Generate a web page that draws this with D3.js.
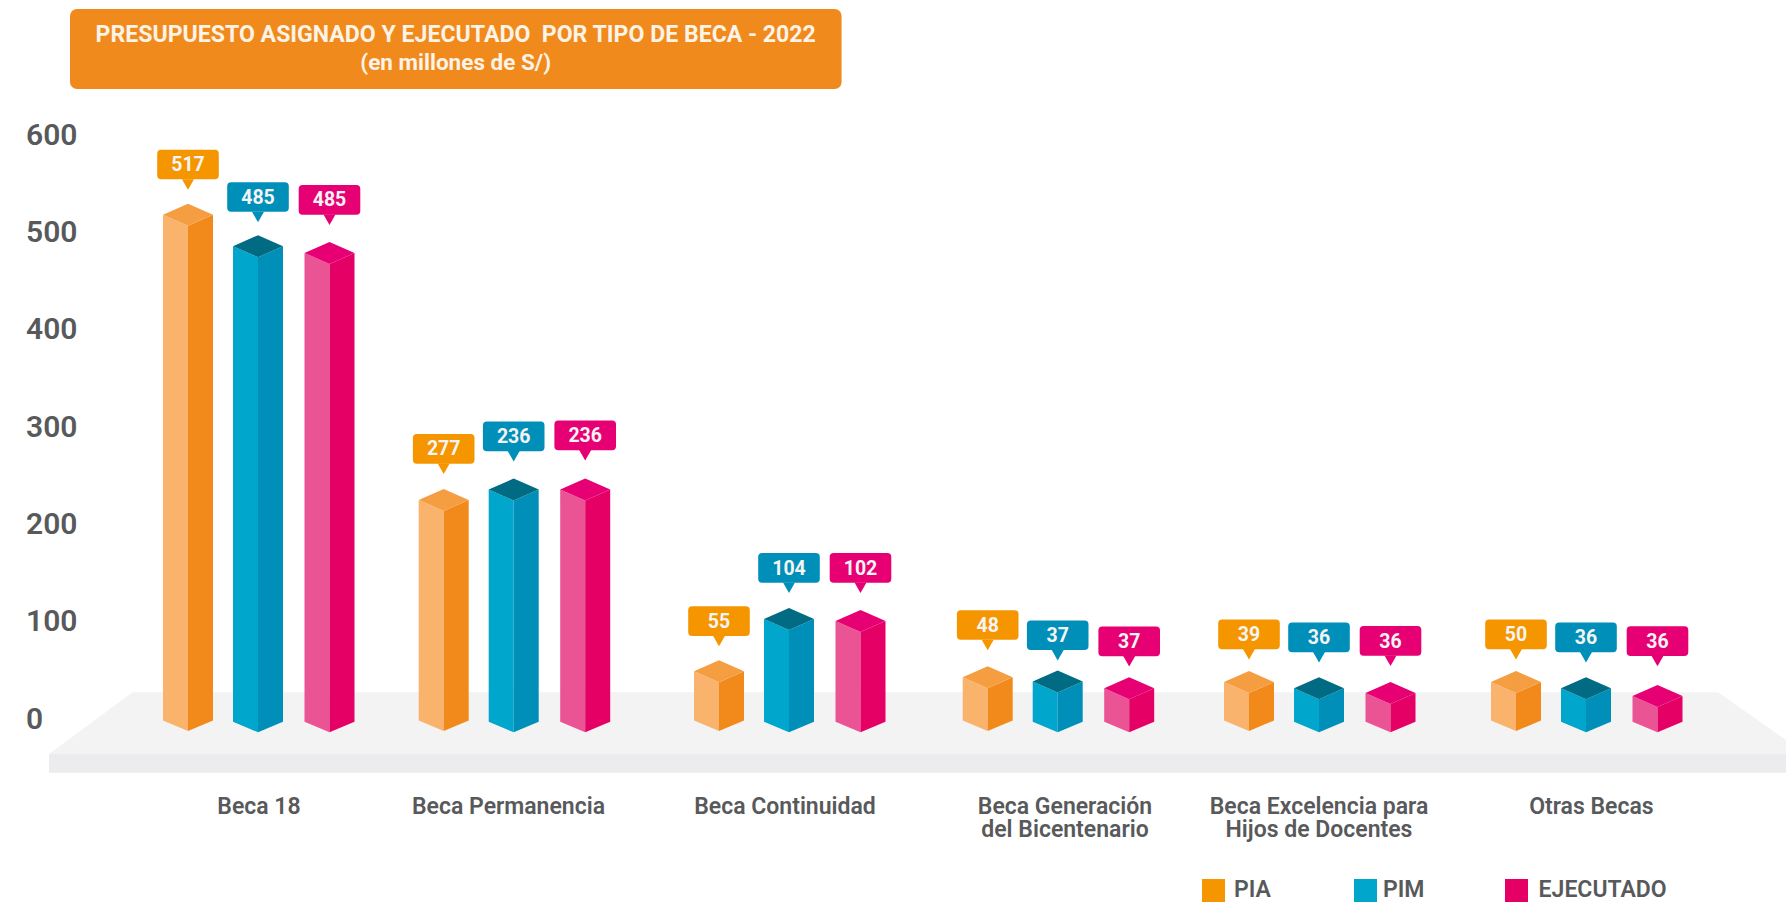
<!DOCTYPE html>
<html>
<head>
<meta charset="utf-8">
<script src="https://cdn.jsdelivr.net/npm/d3@7"></script>
<style>
  html, body { margin: 0; padding: 0; background: #fff; }
  svg { display: block; font-family: Roboto, sans-serif; }
</style>
</head>
<body>
<svg id="chart"></svg>
<script>
// Data: labels printed on the bubbles
var categories = [["Beca 18"], ["Beca Permanencia"], ["Beca Continuidad"],
    ["Beca Generación", "del Bicentenario"], ["Beca Excelencia para", "Hijos de Docentes"], ["Otras Becas"]];
var piaValues = [517, 277, 55, 48, 39, 50];
var pimValues = [485, 236, 104, 37, 36, 36];
var ejecutadoValues = [485, 236, 102, 37, 36, 36];

// Height of the bars read on the axis (the picture does not always follow its labels)
var piaHeights = [519, 226, 50, 44, 39, 39];
var pimHeights = [488, 238, 105, 41, 34, 34];
var ejecutadoHeights = [481, 238, 103, 34, 29, 26];

var yTicks = [0, 100, 200, 300, 400, 500, 600];
var seriesNames = ["PIA", "PIM", "EJECUTADO"];

// Layout
var width = 1786;
var height = 903;
var halfBar = 25;
var capRise = 11;

var svg = d3.select("#chart").attr("width", width).attr("height", height);

var y = d3.scaleLinear().domain([0, 600]).range([718.6, 134.4]);
var groupX = d3.scaleOrdinal().domain(d3.range(6)).range([188, 443.7, 719, 987.7, 1249, 1516]);
var labelX = d3.scaleOrdinal().domain(d3.range(6)).range([259, 508.5, 785, 1065, 1319, 1591.4]);

// one entry per series
var series = [
    { name: seriesNames[0], values: piaValues, heights: piaHeights, offset: 0, base: 731,
      gaps: [14, 15, 14, 16, 11.5, 11.5],
      left: "#f9b36c", right: "#f18a1a", top: "#f59e41", bubble: "#f59500", key: "#f59500", keyX: 1202, textX: 1234 },
    { name: seriesNames[1], values: pimValues, heights: pimHeights, offset: 70, base: 732.3,
      gaps: [13, 17, 15, 10, 14.6, 14.6],
      left: "#00a6cc", right: "#008fb8", top: "#006b82", bubble: "#008fb8", key: "#00a6cc", keyX: 1354, textX: 1383 },
    { name: seriesNames[2], values: ejecutadoValues, heights: ejecutadoHeights, offset: 141.5, base: 732.3,
      gaps: [17, 18, 17, 10.7, 16, 18.7],
      left: "#eb5494", right: "#e50065", top: "#e60073", bubble: "#e60073", key: "#e50065", keyX: 1505, textX: 1538.6 }
];

// Title box
svg.append("rect").attr("x", 70).attr("y", 9).attr("width", 771.6).attr("height", 80)
    .attr("rx", 7).attr("fill", "#f18a1c");
svg.append("g").attr("fill", "#fdf3e6").attr("font-weight", 700).attr("text-anchor", "middle")
    .selectAll("text")
    .data(["PRESUPUESTO ASIGNADO Y EJECUTADO  POR TIPO DE BECA - 2022", "(en millones de S/)"])
    .enter().append("text")
    .attr("xml:space", "preserve")
    .attr("x", 455.7)
    .attr("y", function (d, i) { return i ? 62 : 33.5; })
    .attr("dy", ".36em")
    .attr("font-size", function (d, i) { return i ? 22.5 : 23.1; })
    .text(function (d) { return d; });

// Floor
var floor = svg.append("g");
floor.append("path")
    .attr("d", "M49,754L132.6,692.3L1718,692.3L1806,754Z")
    .attr("fill", "#f3f3f4");
floor.append("rect").attr("x", 49).attr("y", 754).attr("width", width - 49).attr("height", 18.7)
    .attr("fill", "#ececee");

// Y axis
var axis = d3.axisLeft(y).tickValues(yTicks).tickSize(0).tickPadding(0);
var axisG = svg.append("g").attr("transform", "translate(26,0)").call(axis);
axisG.select(".domain").remove();
axisG.selectAll("text")
    .attr("text-anchor", "start")
    .attr("font-family", "Roboto, sans-serif")
    .attr("font-size", 30)
    .attr("font-weight", 600)
    .attr("fill", "#58595b");

// Bars
function barPoints(d) {
    var cx = groupX(d.i) + d.s.offset;
    var front = d.s.base - (y(0) - y(d.h)); // top of the front corner
    return { cx: cx, front: front, base: d.s.base, peak: front - 2 * capRise };
}

series.forEach(function (s) {
    var rows = s.values.map(function (v, i) { return { v: v, h: s.heights[i], i: i, s: s }; });
    var g = svg.append("g").attr("class", "serie");
    var bar = g.selectAll("g.bar").data(rows).enter().append("g").attr("class", "bar");

    bar.append("path").attr("fill", s.left).attr("d", function (d) {
        var p = barPoints(d);
        return "M" + (p.cx - halfBar) + "," + (p.front - capRise) + "L" + p.cx + "," + p.front +
            "L" + p.cx + "," + p.base + "L" + (p.cx - halfBar) + "," + (p.base - capRise + 0.5) + "Z";
    });
    bar.append("path").attr("fill", s.right).attr("d", function (d) {
        var p = barPoints(d);
        return "M" + (p.cx + halfBar) + "," + (p.front - capRise) + "L" + p.cx + "," + p.front +
            "L" + p.cx + "," + p.base + "L" + (p.cx + halfBar) + "," + (p.base - capRise + 0.5) + "Z";
    });
    bar.append("path").attr("fill", s.top).attr("d", function (d) {
        var p = barPoints(d);
        return "M" + p.cx + "," + p.peak + "L" + (p.cx + halfBar) + "," + (p.front - capRise) +
            "L" + p.cx + "," + p.front + "L" + (p.cx - halfBar) + "," + (p.front - capRise) + "Z";
    });

    // Bubble with the label, sitting over the peak of the bar
    var bubble = bar.append("g").attr("transform", function (d) {
        var p = barPoints(d);
        return "translate(" + p.cx + "," + (p.peak - s.gaps[d.i]) + ")";
    });
    bubble.append("rect").attr("x", -30.8).attr("y", -40).attr("width", 61.6).attr("height", 29.7)
        .attr("rx", 4).attr("fill", s.bubble);
    bubble.append("path").attr("d", "M-6,-10.5L6,-10.5L0,0Z").attr("fill", s.bubble);
    bubble.append("text").attr("y", -25.5).attr("dy", ".36em").attr("text-anchor", "middle")
        .attr("font-size", 19.5).attr("font-weight", 700).attr("fill", "#f4f4f4")
        .text(function (d) { return d.v; });
});

// Category labels
var cat = svg.append("g").attr("fill", "#58595b").attr("font-size", 23).attr("font-weight", 600)
    .attr("text-anchor", "middle")
    .selectAll("text").data(categories).enter().append("text");
cat.selectAll("tspan")
    .data(function (d, i) { return d.map(function (line, j) { return { line: line, j: j, i: i }; }); })
    .enter().append("tspan")
    .attr("x", function (d) { return labelX(d.i); })
    .attr("y", function (d) { return 805.5 + d.j * 23; })
    .attr("dy", ".36em")
    .text(function (d) { return d.line; });

// Legend
var legend = svg.append("g").selectAll("g").data(series).enter().append("g");
legend.append("rect")
    .attr("x", function (d) { return d.keyX; })
    .attr("y", 879).attr("width", 23).attr("height", 23)
    .attr("fill", function (d) { return d.key; });
legend.append("text")
    .attr("x", function (d) { return d.textX; })
    .attr("y", 889).attr("dy", ".36em")
    .attr("font-size", 23).attr("font-weight", 600).attr("fill", "#58595b")
    .text(function (d) { return d.name; });
</script>
</body>
</html>
